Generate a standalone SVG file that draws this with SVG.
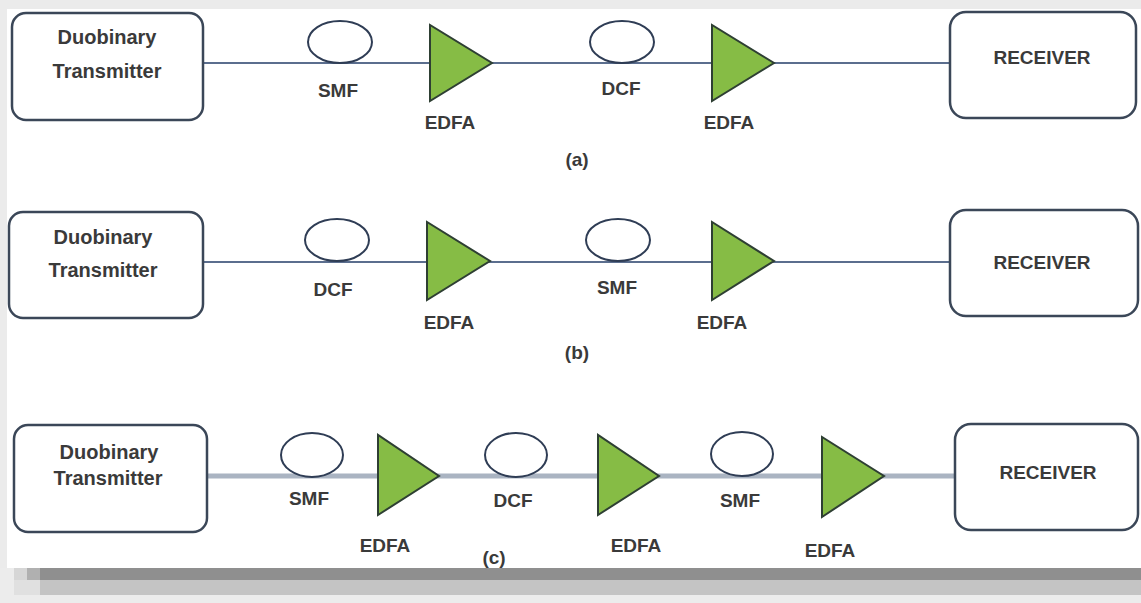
<svg xmlns="http://www.w3.org/2000/svg" width="1141" height="603" viewBox="0 0 1141 603">
<style>
.box{fill:#fff;stroke:#3b4758;stroke-width:2.5}
.fib{fill:#fff;stroke:#2f3d55;stroke-width:2}
.amp{fill:#86bc45;stroke:#2e3f33;stroke-width:2;stroke-linejoin:miter}
.t{font-family:"Liberation Sans",Arial,sans-serif;font-weight:bold;font-size:19px;fill:#3a3a3a;text-anchor:middle}
.tx{font-size:20px}
.ln{stroke:#5b6e8e;stroke-width:2}
.lnc{stroke:#aab4c2;stroke-width:5}
</style>
<rect x="0" y="0" width="1141" height="603" fill="#ffffff"/>
<rect x="0" y="0" width="1141" height="9" fill="#ebebeb"/>
<rect x="0" y="0" width="7" height="603" fill="#ebebeb"/>

<g id="connectors">
<line class="ln" x1="203" y1="63" x2="950" y2="63"/>
<line class="ln" x1="203" y1="262" x2="950" y2="262"/>
<line class="lnc" x1="207" y1="476" x2="955" y2="476"/>
</g>

<!-- Row a -->
<g id="tx-a"><rect class="box" x="12" y="13" width="191" height="107" rx="14"/>
<text class="t tx" x="107" y="44">Duobinary</text><text class="t tx" x="107" y="78">Transmitter</text></g>
<g id="smf-a"><ellipse class="fib" cx="340" cy="42" rx="32" ry="21"/><text class="t" x="338" y="97">SMF</text></g>
<g id="edfa-a1"><polygon class="amp" points="430,25 430,101 492,63"/><text class="t" x="450" y="129">EDFA</text></g>
<g id="dcf-a"><ellipse class="fib" cx="622" cy="42" rx="32" ry="21"/><text class="t" x="621" y="95">DCF</text></g>
<g id="edfa-a2"><polygon class="amp" points="712,25 712,101 774,63"/><text class="t" x="729" y="129">EDFA</text></g>
<g id="rx-a"><rect class="box" x="950" y="12" width="186" height="106" rx="16"/><text class="t" x="1042" y="64">RECEIVER</text></g>
<g id="label-a"><text class="t" x="577" y="166">(a)</text></g>

<!-- Row b -->
<g id="tx-b"><rect class="box" x="9" y="212" width="194" height="106" rx="14"/>
<text class="t tx" x="103" y="244">Duobinary</text><text class="t tx" x="103" y="277">Transmitter</text></g>
<g id="dcf-b"><ellipse class="fib" cx="337" cy="240" rx="32" ry="21"/><text class="t" x="333" y="296">DCF</text></g>
<g id="edfa-b1"><polygon class="amp" points="427,222 427,300 490,261"/><text class="t" x="449" y="329">EDFA</text></g>
<g id="smf-b"><ellipse class="fib" cx="618" cy="240" rx="32" ry="21"/><text class="t" x="617" y="294">SMF</text></g>
<g id="edfa-b2"><polygon class="amp" points="712,222 712,300 774,261"/><text class="t" x="722" y="329">EDFA</text></g>
<g id="rx-b"><rect class="box" x="950" y="210" width="188" height="106" rx="16"/><text class="t" x="1042" y="269">RECEIVER</text></g>
<g id="label-b"><text class="t" x="577" y="359">(b)</text></g>

<!-- Row c -->
<g id="tx-c"><rect class="box" x="14" y="425" width="193" height="107" rx="14"/>
<text class="t tx" x="109" y="459">Duobinary</text><text class="t tx" x="108" y="485">Transmitter</text></g>
<g id="smf-c1"><ellipse class="fib" cx="312" cy="455" rx="31" ry="22"/><text class="t" x="309" y="505">SMF</text></g>
<g id="edfa-c1"><polygon class="amp" points="378,435 378,515 439,476"/><text class="t" x="385" y="552">EDFA</text></g>
<g id="dcf-c"><ellipse class="fib" cx="516" cy="455" rx="31" ry="22"/><text class="t" x="513" y="507">DCF</text></g>
<g id="edfa-c2"><polygon class="amp" points="598,435 598,515 659,476"/><text class="t" x="636" y="552">EDFA</text></g>
<g id="smf-c2"><ellipse class="fib" cx="742" cy="454" rx="31" ry="22"/><text class="t" x="740" y="507">SMF</text></g>
<g id="edfa-c3"><polygon class="amp" points="822,437 822,517 884,476"/><text class="t" x="830" y="557">EDFA</text></g>
<g id="rx-c"><rect class="box" x="955" y="424" width="183" height="106" rx="16"/><text class="t" x="1048" y="479">RECEIVER</text></g>
<g id="label-c"><text class="t" x="494" y="564">(c)</text></g>

<!-- bottom bands -->
<rect x="0" y="568" width="1141" height="12" fill="#8f8f8f"/>
<rect x="0" y="580" width="1141" height="15" fill="#c4c4c4"/>
<rect x="0" y="595" width="1141" height="8" fill="#ececec"/>
<rect x="0" y="568" width="14" height="35" fill="#ececec"/>
<rect x="14" y="568" width="13" height="12" fill="#d6d6d6"/>
<rect x="27" y="568" width="13" height="12" fill="#b0b0b0"/>
<rect x="14" y="580" width="26" height="15" fill="#e0e0e0"/>
</svg>
